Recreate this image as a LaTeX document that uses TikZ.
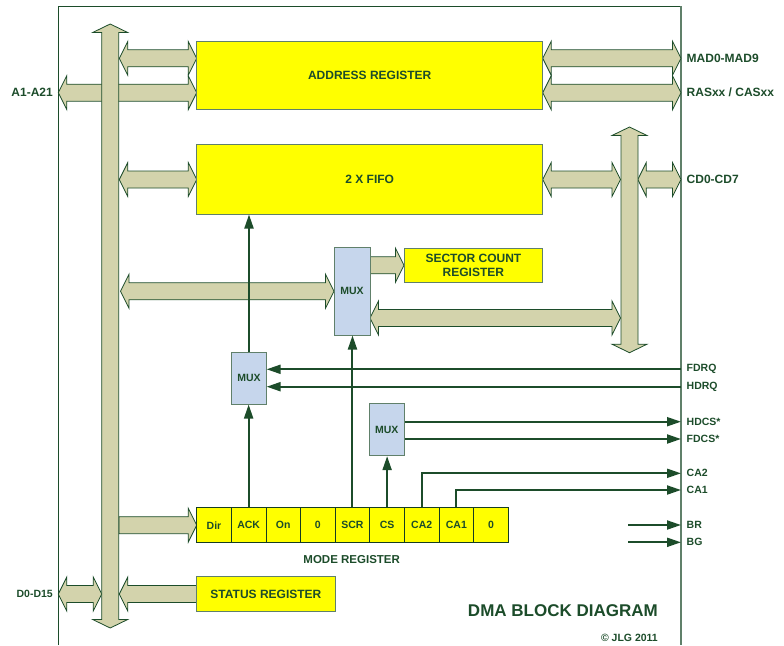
\documentclass[tikz,border=0pt]{standalone}
\usepackage{fontspec}
\setmainfont{Liberation Sans}
\usetikzlibrary{arrows.meta}
\definecolor{dg}{RGB}{28,76,42}
\definecolor{edgec}{RGB}{96,128,106}
\definecolor{busfill}{RGB}{211,211,172}
\definecolor{muxfill}{RGB}{198,214,236}
\definecolor{yel}{RGB}{255,255,0}
\def\hl{8.5}\def\hw{17}\def\sw{8.5}
\newcommand\dbh[3]{\filldraw[busarrow] (#1,#3) -- (#1+\hl,#3-\hw) -- (#1+\hl,#3-\sw) -- (#2-\hl,#3-\sw) -- (#2-\hl,#3-\hw) -- (#2,#3) -- (#2-\hl,#3+\hw) -- (#2-\hl,#3+\sw) -- (#1+\hl,#3+\sw) -- (#1+\hl,#3+\hw) -- cycle;}
\newcommand\rah[3]{\filldraw[busarrow] (#1,#3-\sw) -- (#2-\hl,#3-\sw) -- (#2-\hl,#3-\hw) -- (#2,#3) -- (#2-\hl,#3+\hw) -- (#2-\hl,#3+\sw) -- (#1,#3+\sw) -- cycle;}
\newcommand\lah[3]{\filldraw[busarrow] (#2,#3-\sw) -- (#1+\hl,#3-\sw) -- (#1+\hl,#3-\hw) -- (#1,#3) -- (#1+\hl,#3+\hw) -- (#1+\hl,#3+\sw) -- (#2,#3+\sw) -- cycle;}
\newcommand\dbv[3]{\filldraw[busarrow] (#1,#2) -- (#1+17.5,#2+\hl) -- (#1+\sw,#2+\hl) -- (#1+\sw,#3-\hl) -- (#1+17.5,#3-\hl) -- (#1,#3) -- (#1-17.5,#3-\hl) -- (#1-\sw,#3-\hl) -- (#1-\sw,#2+\hl) -- (#1-17.5,#2+\hl) -- cycle;}
\begin{document}
\begin{tikzpicture}[x=1pt,y=-1pt,
  busarrow/.style={fill=busfill,draw=dg,line width=0.8pt,line join=miter},
  ybox/.style={draw=edgec,fill=yel,line width=0.9pt,inner sep=0pt,text=dg,font=\bfseries\fontsize{12}{14.6}\selectfont,align=center},
  cell/.style={draw=dg!80!black,fill=yel,line width=0.8pt,inner sep=0pt,minimum width=34.62pt,minimum height=35pt,text=dg,font=\bfseries\fontsize{10.5}{12}\selectfont},
  muxbox/.style={draw=edgec,fill=muxfill,line width=0.9pt,inner sep=0pt,text=dg,font=\bfseries\fontsize{10.5}{12}\selectfont},
  sig/.style={draw=dg,line width=2pt,-{Triangle[length=14pt,width=9pt]}},
  lab/.style={text=dg,anchor=west,inner sep=0pt,font=\bfseries\fontsize{10.5}{12}\selectfont},
  blab/.style={text=dg,inner sep=0pt,font=\bfseries\fontsize{12}{14}\selectfont}]
\useasboundingbox (0,0) rectangle (784,645);
% frame
\draw[dg,line width=1pt] (58.3,645) -- (58.3,6.3) -- (681,6.3);
\draw[edgec,line width=1.5pt] (681,6.3) -- (681,645);
% fat horizontal arrows
\dbh{119.3}{196.7}{58.3}
\dbh{58.3}{196.7}{92.7}
\dbh{542.7}{681}{58.3}
\dbh{542.7}{681}{92.7}
\dbh{119.3}{196.7}{179.5}
\dbh{542.7}{620.5}{179.5}
\dbh{637.8}{681}{179.5}
\dbh{120.5}{334}{291.3}
\rah{370}{404}{265.3}
\dbh{370}{620.5}{318}
\rah{119}{196.7}{525.2}
\lah{119.3}{196.7}{594}
\dbh{58.3}{101.7}{594}
% vertical buses
\dbv{110.2}{24}{628}
\dbv{629.5}{127}{352.7}
% boxes
\node[ybox,minimum width=346pt,minimum height=68.7pt] (addr) at (369.7,75.35) {ADDRESS REGISTER};
\node[ybox,minimum width=346pt,minimum height=69.7pt] (fifo) at (369.7,179.2) {2 X FIFO};
\node[ybox,minimum width=138.7pt,minimum height=34.3pt] (scr) at (473.4,265.3) {SECTOR COUNT\\REGISTER};
\node[ybox,minimum width=138.3pt,minimum height=34.3pt] (status) at (265.9,593.9) {STATUS REGISTER};
\node[muxbox,minimum width=36pt,minimum height=87.3pt] (mux2) at (352,291.4) {MUX};
\node[muxbox,minimum width=34.3pt,minimum height=51.3pt] (mux1) at (249,378.4) {MUX};
\node[muxbox,minimum width=35pt,minimum height=52pt] (mux3) at (386.8,429.7) {MUX};
\foreach \t [count=\i] in {Dir,ACK,On,0,SCR,CS,CA2,CA1,0}
  \node[cell] (m\i) at ({196.7+34.62*(\i-0.5)},525.2) {\t};
% signal coordinates
\coordinate (fdrq) at (681,369.3);
\coordinate (hdrq) at (681,386.7);
\coordinate (hdcs) at (681,421.7);
\coordinate (fdcs) at (681,439);
\coordinate (ca2) at (681,473.3);
\coordinate (ca1) at (681,490);
\coordinate (brs) at (628,525);
\coordinate (bre) at (681,525);
\coordinate (bgs) at (628,542.3);
\coordinate (bge) at (681,542.3);
% thin connectors
\draw[sig] (mux1.north) -- (mux1.north |- fifo.south);
\draw[sig] (m2.north) -- (m2.north |- mux1.south);
\draw[sig] (m5.north) -- (m5.north |- mux2.south);
\draw[sig] (m6.north) -- (m6.north |- mux3.south);
\draw[sig] (fdrq) -- (fdrq -| mux1.east);
\draw[sig] (hdrq) -- (hdrq -| mux1.east);
\draw[sig] (hdcs -| mux3.east) -- (hdcs);
\draw[sig] (fdcs -| mux3.east) -- (fdcs);
\draw[sig] (m7.north) |- (ca2);
\draw[sig] (m8.north) |- (ca1);
\draw[sig] (brs) -- (bre);
\draw[sig] (bgs) -- (bge);
% labels
\node[blab,anchor=east] (la1) at (53,92.7) {A1-A21};
\node[lab,anchor=east] (ld0) at (53,594) {D0-D15};
\node[blab,anchor=west] (lmad) at (686.5,58.3) {MAD0-MAD9};
\node[blab,anchor=west] (lras) at (686.5,92.7) {RASxx / CASxx};
\node[blab,anchor=west] (lcd) at (686.5,179.5) {CD0-CD7};
\node[lab] (lfdrq) at (686.5,369.3) {FDRQ};
\node[lab] (lhdrq) at (686.5,386.7) {HDRQ};
\node[lab] (lhdcs) at (686.5,421.7) {HDCS*};
\node[lab] (lfdcs) at (686.5,439) {FDCS*};
\node[lab] (lca2) at (686.5,473.3) {CA2};
\node[lab] (lca1) at (686.5,490) {CA1};
\node[lab] (lbr) at (686.5,525) {BR};
\node[lab] (lbg) at (686.5,542.3) {BG};
\node[text=dg,inner sep=0pt,font=\bfseries\fontsize{11.5}{13}\selectfont] (lmode) at (351.7,560) {MODE REGISTER};
\node[text=dg,inner sep=0pt,anchor=east,font=\bfseries\fontsize{17}{20}\selectfont] (title) at (658,610.7) {DMA BLOCK DIAGRAM};
\node[text=dg,inner sep=0pt,anchor=east,font=\bfseries\fontsize{10.5}{12}\selectfont] (copy) at (658,637.7) {© JLG 2011};
\end{tikzpicture}
\end{document}
